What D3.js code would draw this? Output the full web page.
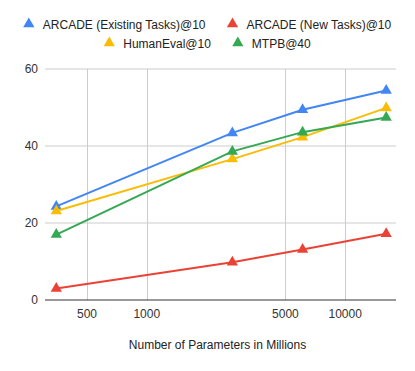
<!DOCTYPE html>
<html>
<head>
<meta charset="utf-8">
<script src="https://cdn.jsdelivr.net/npm/d3@7"></script>
<style>
  body { margin: 0; background: #fff; }
  text { font-family: "Liberation Sans", Arial, sans-serif; }
</style>
</head>
<body>
<svg id="chart" width="415" height="371"></svg>
<script>
// DATA
const params = [350, 2700, 6100, 16100];
const seriesNames = ["ARCADE (Existing Tasks)@10", "ARCADE (New Tasks)@10", "HumanEval@10", "MTPB@40"];
const arcadeExisting = [24.3, 43.4, 49.4, 54.4];
const arcadeNew = [3.0, 9.8, 13.1, 17.2];
const humanEval = [23.1, 36.6, 42.3, 49.9];
const mtpb = [17.0, 38.6, 43.6, 47.4];
const xTicks = [500, 1000, 5000, 10000];
const yTicks = [0, 20, 40, 60];
const colors = ["#4285F4", "#EA4335", "#FBBC04", "#34A853"];

const series = [arcadeExisting, arcadeNew, humanEval, mtpb].map((vals, i) => ({
    name: seriesNames[i],
    color: colors[i],
    points: vals.map((v, j) => ({x: params[j], y: v}))
}));

const W = 415, H = 371;
const margin = {left: 45, right: 19, top: 69, bottom: 71};

const svg = d3.select("#chart");

const x = d3.scaleLog().domain([307, 18040]).range([margin.left, W - margin.right]);
const y = d3.scaleLinear().domain([0, 60]).range([H - margin.bottom, margin.top]);

// grid
svg.append("g").selectAll("line.h")
    .data(yTicks.filter(d => d > 0))
    .join("line")
    .attr("x1", margin.left).attr("x2", W - margin.right)
    .attr("y1", d => y(d)).attr("y2", d => y(d))
    .attr("stroke", "#cccccc").attr("stroke-width", 1);

svg.append("g").selectAll("line.v")
    .data(xTicks)
    .join("line")
    .attr("x1", d => Math.round(x(d)) + 0.5).attr("x2", d => Math.round(x(d)) + 0.5)
    .attr("y1", margin.top).attr("y2", H - margin.bottom)
    .attr("stroke", "#cccccc").attr("stroke-width", 1);

// y labels
svg.append("g").selectAll("text")
    .data(yTicks)
    .join("text")
    .attr("x", margin.left - 7)
    .attr("y", d => y(d))
    .attr("dy", "0.35em")
    .attr("text-anchor", "end")
    .attr("font-size", 12)
    .attr("fill", "#333")
    .text(d => d);

// x labels
svg.append("g").selectAll("text")
    .data(xTicks)
    .join("text")
    .attr("x", d => x(d))
    .attr("y", H - margin.bottom + 18)
    .attr("text-anchor", "middle")
    .attr("font-size", 12)
    .attr("fill", "#333")
    .text(d => d);

// baseline
svg.append("line")
    .attr("x1", margin.left).attr("x2", W - margin.right)
    .attr("y1", y(0)).attr("y2", y(0))
    .attr("stroke", "#333").attr("stroke-width", 1);

// axis title
svg.append("text")
    .attr("x", 217.5)
    .attr("y", 349)
    .attr("text-anchor", "middle")
    .attr("font-size", 12)
    .attr("fill", "#222")
    .text("Number of Parameters in Millions");

// lines
const line = d3.line().x(d => x(d.x)).y(d => y(d.y));
const tri = d3.symbol().type(d3.symbolTriangle).size(55);

series.forEach(s => {
    svg.append("path")
        .attr("d", line(s.points))
        .attr("fill", "none")
        .attr("stroke", s.color)
        .attr("stroke-width", 2);
    svg.append("g").selectAll("path")
        .data(s.points)
        .join("path")
        .attr("d", tri)
        .attr("transform", d => `translate(${x(d.x)},${y(d.y)})`)
        .attr("fill", s.color);
});

// legend
const rows = [[0, 1], [2, 3]];
const rowY = [25, 44];
rows.forEach((row, r) => {
    const g = svg.append("g");
    let cx = 0;
    row.forEach((idx, k) => {
        const s = series[idx];
        const item = g.append("g").attr("transform", `translate(${cx},0)`);
        item.append("path").attr("d", tri).attr("transform", "translate(5,-1)").attr("fill", s.color);
        const t = item.append("text")
            .attr("x", 19).attr("y", 0).attr("dy", "0.35em")
            .attr("font-size", 12).attr("fill", "#222")
            .text(s.name);
        cx += 19 + t.node().getComputedTextLength() + 22;
    });
    const w = cx - 22;
    g.attr("transform", `translate(${(W - w) / 2},${rowY[r]})`);
});
</script>
</body>
</html>
